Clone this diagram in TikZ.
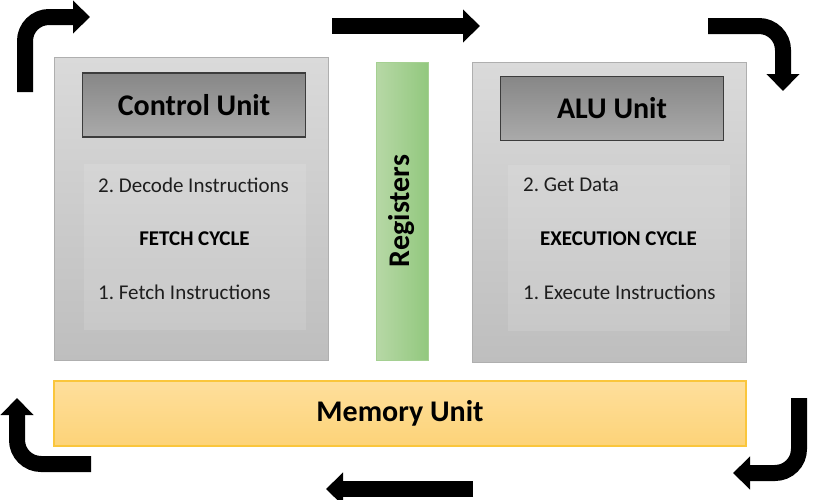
\documentclass[tikz,border=0pt]{standalone}
\usepackage{fontspec}
\setmainfont{Carlito}
\frenchspacing
\usetikzlibrary{arrows.meta}
\definecolor{boxtop}{RGB}{218,218,218}
\definecolor{boxbot}{RGB}{190,190,190}
\definecolor{boxline}{RGB}{175,175,175}
\definecolor{headtop}{RGB}{135,135,135}
\definecolor{headbot}{RGB}{170,170,170}
\definecolor{headline}{RGB}{60,60,60}
\definecolor{regleft}{RGB}{183,216,166}
\definecolor{regright}{RGB}{146,200,126}
\definecolor{regline}{RGB}{165,208,146}
\definecolor{memtop}{RGB}{254,223,156}
\definecolor{membot}{RGB}{253,211,120}
\definecolor{memline}{RGB}{250,198,60}
\definecolor{txt}{RGB}{30,30,30}

\begin{document}
\begin{tikzpicture}[x=1pt,y=-1pt,
    unit/.style={draw=boxline, line width=1pt, top color=boxtop, bottom color=boxbot, minimum width=274pt, minimum height=300pt},
    head/.style={draw=headline, line width=1.5pt, top color=headtop, bottom color=headbot, minimum width=223pt, minimum height=64pt, font=\fontsize{30}{36}\selectfont\bfseries},
    panel/.style={fill=white, fill opacity=0.12, minimum width=222pt, minimum height=166pt},
    stage/.style={anchor=west, text=txt, inner sep=0pt, font=\fontsize{21}{25}\selectfont},
    phase/.style={text=black, inner sep=0pt, font=\fontsize{21}{25}\selectfont\bfseries},
    flow/.style={line width=16pt, -{Triangle[length=17pt,width=32pt]}, rounded corners=24pt}]
    \useasboundingbox (0,0) rectangle (825,499);

    \node[unit, minimum height=303pt] (cpu) at (191,208.5) {};
    \node[head] (ctrl) at (194,105) {Control Unit};
    \node[panel] (fetch) at (194.5,247) {};
    \node[stage] (decode) at (98,185) {2. Decode Instructions};
    \node[phase] (fetchcyc) at (194.5,239) {FETCH CYCLE};
    \node[stage] (fetchins) at (98,292) {1. Fetch Instructions};

    \node[draw=regline, line width=0.8pt, rotate=90, minimum width=298pt, minimum height=52pt, left color=regleft, right color=regright, font=\fontsize{30}{36}\selectfont\bfseries] (regs) at (402,211) {Registers};

    \node[unit] (alu) at (609,212) {};
    \node[head] (aluhead) at (612,108.5) {ALU Unit};
    \node[panel] (exec) at (618.5,247.5) {};
    \node[stage] (getdata) at (523,185) {2. Get Data};
    \node[phase] (execcyc) at (618.5,239) {EXECUTION CYCLE};
    \node[stage] (execins) at (523,292) {1. Execute Instructions};

    \node[draw=memline, line width=1.5pt, top color=memtop, bottom color=membot, minimum width=692pt, minimum height=65pt, font=\fontsize{30}{36}\selectfont\bfseries] (mem) at (400,413.5) {Memory Unit};

    \coordinate (tl0) at (25,92);
    \coordinate (tl1) at (90,17);
    \coordinate (tm0) at (332,26);
    \coordinate (tm1) at (480,26);
    \coordinate (tr0) at (708,26);
    \coordinate (tr1) at (783,91);
    \coordinate (br0) at (799,398);
    \coordinate (br1) at (733,473);
    \coordinate (bm0) at (473,489);
    \coordinate (bm1) at (326,489);
    \coordinate (bl0) at (91,464);
    \coordinate (bl1) at (17,398);

    \draw[flow] (tl0) |- (tl1);
    \draw[flow] (tm0) -- (tm1);
    \draw[flow] (tr0) -| (tr1);
    \draw[flow] (br0) |- (br1);
    \draw[flow] (bm0) -- (bm1);
    \draw[flow] (bl0) -| (bl1);
\end{tikzpicture}
\end{document}
